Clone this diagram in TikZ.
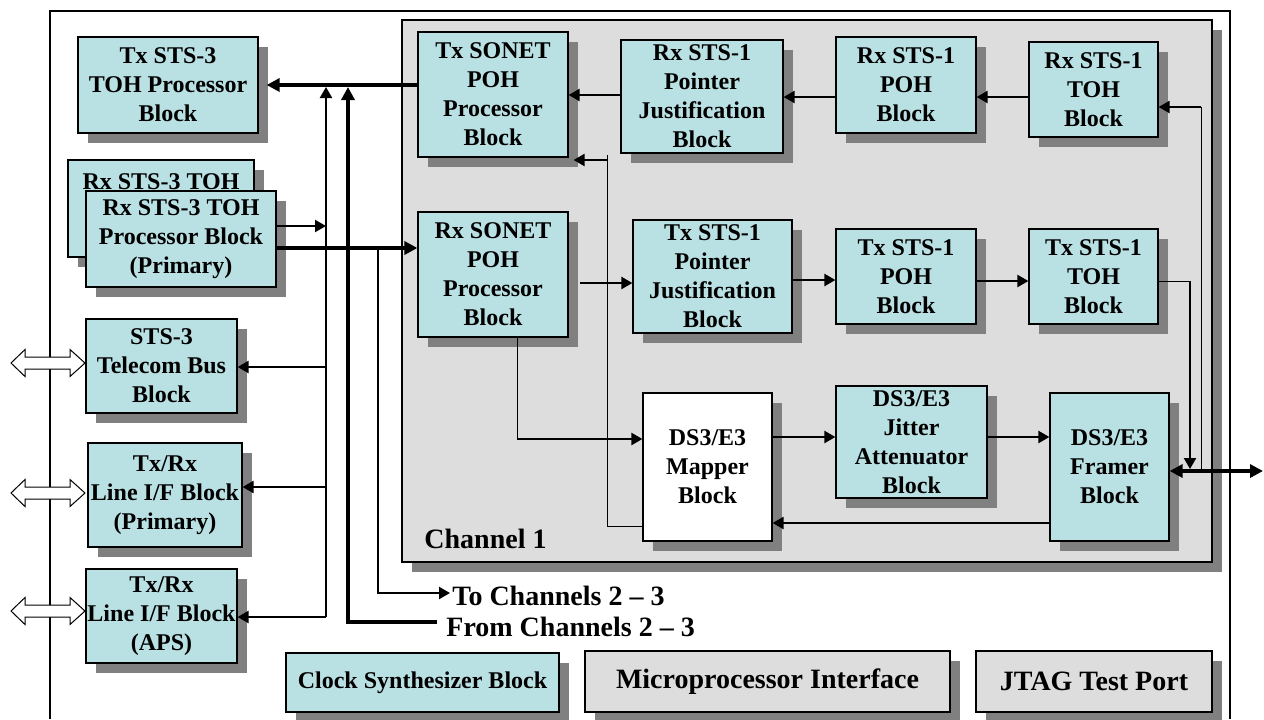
\documentclass[tikz,border=0pt]{standalone}
\usepackage{fontspec}
\setmainfont{Liberation Serif}
\usetikzlibrary{arrows.meta,shadows,calc}
\definecolor{boxblue}{RGB}{185,224,227}
\definecolor{shadowgray}{RGB}{128,128,128}
\definecolor{chgray}{RGB}{221,221,221}
\tikzset{
  blk/.style={draw=black, line width=0.6pt, fill=boxblue,
    drop shadow={shadow xshift=5pt, shadow yshift=-5pt, fill=shadowgray, opacity=1},
    align=center, inner sep=0pt, font=\bfseries\fontsize{12}{14.5}\selectfont},
  grayblk/.style={blk, fill=chgray, font=\bfseries\fontsize{14}{17}\selectfont},
  whiteblk/.style={blk, fill=white},
  lbl/.style={inner sep=0pt, font=\bfseries\fontsize{14}{17}\selectfont},
  thinl/.style={line width=0.5pt},
  medl/.style={line width=1.1pt},
  thickl/.style={line width=2pt},
  medtip/.style={-{Triangle[length=5.5pt,width=6pt]}},
  thicktip/.style={-{Triangle[length=6.5pt,width=6.5pt]}},
  thickboth/.style={{Triangle[length=6.5pt,width=6.5pt]}-{Triangle[length=6.5pt,width=6.5pt]}},
  dblarrow/.pic={\draw[fill=white,line width=0.5pt] (-37,0) -- (-23,-13.5) -- (-23,-6) -- (22,-6) -- (22,-13.5) -- (37,0) -- (22,13.5) -- (22,6) -- (-23,6) -- (-23,13.5) -- cycle;}
}
\newcommand\mkbox[7]{\node[#1,minimum width={(#5-#3)*0.5pt},minimum height={(#6-#4)*0.5pt}] (#2) at ({(#3+#5)/2},{(#4+#6)/2}) {#7};}
\begin{document}
\begin{tikzpicture}[x=0.5pt,y=-0.5pt]
\useasboundingbox (0,0) rectangle (1264,719);
% outer frame
\coordinate (frBL) at (50,719);
\coordinate (frTL) at (50,11);
\coordinate (frTR) at (1230,11);
\coordinate (frBR) at (1230,719);
\draw[line width=0.6pt] (frBL) -- (frTL) -- (frTR) -- (frBR);
% hollow double arrows
\pic (dbl1) at (48,363) {dblarrow};
\pic (dbl2) at (48,493) {dblarrow};
\pic (dbl3) at (48,611) {dblarrow};
% channel box
\mkbox{blk,fill=chgray}{chan}{402}{20}{1212}{562}{}
% left blocks
\mkbox{blk}{txsts3}{78}{37}{258}{133}{Tx STS-3\\TOH Processor\\Block}
\mkbox{blk}{rxback}{68}{160}{254}{257}{}
\node[inner sep=0pt,font=\bfseries\fontsize{12}{14.5}\selectfont,anchor=base] (rxbacktxt) at (161,189) {Rx STS-3 TOH};
\mkbox{blk}{rxprim}{86}{191}{276}{287}{Rx STS-3 TOH\\Processor Block\\(Primary)}
\mkbox{blk}{telecom}{86}{319}{237}{413}{STS-3\\Telecom Bus\\Block}
\mkbox{blk}{lineprim}{88}{443}{242}{547}{Tx/Rx\\Line I/F Block\\(Primary)}
\mkbox{blk}{lineaps}{86}{569}{237}{663}{Tx/Rx\\Line I/F Block\\(APS)}
% bottom blocks
\mkbox{blk}{clock}{286}{653}{559}{712}{Clock Synthesizer Block}
\mkbox{grayblk}{micro}{585}{651}{950}{712}{Microprocessor Interface}
\mkbox{grayblk}{jtag}{976}{651}{1212}{712}{JTAG Test Port}
% channel blocks
\mkbox{blk}{txsonet}{418}{32}{568}{157}{Tx SONET\\POH\\Processor\\Block}
\mkbox{blk}{rxptr}{621}{40}{783}{153}{Rx STS-1\\Pointer\\Justification\\Block}
\mkbox{blk}{rxpoh}{836}{37}{976}{133}{Rx STS-1\\POH\\Block}
\mkbox{blk}{rxtoh}{1029}{42}{1158}{137}{Rx STS-1\\TOH\\Block}
\mkbox{blk}{rxsonet}{418}{212}{568}{337}{Rx SONET\\POH\\Processor\\Block}
\mkbox{blk}{txptr}{633}{220}{792}{333}{Tx STS-1\\Pointer\\Justification\\Block}
\mkbox{blk}{txpoh}{836}{229}{976}{324}{Tx STS-1\\POH\\Block}
\mkbox{blk}{txtoh}{1029}{229}{1158}{324}{Tx STS-1\\TOH\\Block}
\mkbox{whiteblk}{mapper}{643}{393}{772}{541}{DS3/E3\\Mapper\\Block}
\mkbox{blk}{jitter}{836}{386}{987}{498}{DS3/E3\\Jitter\\Attenuator\\Block}
\mkbox{blk}{framer}{1050}{393}{1169}{541}{DS3/E3\\Framer\\Block}
% labels
\node[lbl,anchor=base west] (ch1) at (424,548) {Channel 1};
\node[lbl,anchor=base west] (tochan) at (452,605) {To Channels 2 – 3};
\node[lbl,anchor=base west] (fromchan) at (446,636) {From Channels 2 – 3};
% bus A
\coordinate (busAtop) at (326,87);
\coordinate (busAbot) at (326,617);
\draw[medl,medtip] (busAbot) -- (busAtop);
\draw[medl,medtip] (rxprim.east |- 0,226) -- (busAtop |- 0,226);
\draw[medl,medtip] (busAtop |- 0,367) -- (telecom.east |- 0,367);
\draw[medl,medtip] (busAtop |- 0,487) -- (lineprim.east |- 0,487);
\draw[medl,medtip] (busAbot) -- (lineaps.east |- busAbot);
% thick to Tx STS-3 TOH
\draw[thickl,thicktip] (txsonet.west |- txsts3.east) -- ([xshift=4pt]txsts3.east);
% bus B (from channels)
\coordinate (busBtop) at (348,87);
\coordinate (fromend) at (437,622);
\draw[thickl,thicktip] (fromend) -| (busBtop);
% thick to Rx SONET
\draw[thickl,thicktip] (rxprim.east |- 0,248) -- (rxsonet.west |- 0,248);
% bus C (to channels)
\coordinate (busCtop) at (378,248);
\coordinate (toend) at (450,593);
\draw[medl,medtip] (busCtop) |- (toend);
% channel connectors, top row
\draw[medl,medtip] (rxptr.west |- 0,95) -- (txsonet.east |- 0,95);
\draw[medl,medtip] (rxpoh.west |- 0,97) -- (rxptr.east |- 0,97);
\draw[medl,medtip] (rxtoh.west |- 0,97) -- (rxpoh.east |- 0,97);
\coordinate (rxtohin) at (1201,107);
\coordinate (bidirA) at (1201,471);
\draw[thinl] (bidirA) -- (rxtohin);
\draw[medl,medtip] (rxtohin) -- (rxtoh.east |- rxtohin);
% middle row
\draw[medl,medtip] ($(rxsonet.east |- 0,283)+(11,0)$) -- (txptr.west |- 0,283);
\draw[medl,medtip] (txptr.east |- 0,280) -- (txpoh.west |- 0,280);
\draw[medl,medtip] (txpoh.east |- 0,281) -- (txtoh.west |- 0,281);
\coordinate (txtohout) at (1190,281);
\coordinate (txtohdown) at (1190,469);
\draw[thinl] (txtoh.east |- txtohout) -- (txtohout);
\draw[medl,medtip] (txtohout) -- (txtohdown);
% bottom row
\coordinate (lineout) at (1263,471);
\draw[thickl,thickboth] (framer.east |- lineout) -- (lineout);
\draw[medl,medtip] (mapper.east |- 0,437) -- (jitter.west |- 0,437);
\draw[medl,medtip] (jitter.east |- 0,437) -- (framer.west |- 0,437);
\draw[medl,medtip] (framer.west |- 0,523) -- (mapper.east |- 0,523);
\coordinate (rxsdown) at (517,439);
\draw[thinl] (rxsonet.south -| rxsdown) -- (rxsdown);
\draw[medl,medtip] (rxsdown) -- (mapper.west |- rxsdown);
\coordinate (mapbackA) at (607,526);
\coordinate (mapbackB) at (607,155);
\coordinate (mapbackC) at (607,160);
\draw[thinl] (mapper.west |- mapbackA) -- (mapbackA) -- (mapbackB);
\draw[medl,medtip] (mapbackC) -- ($(txsonet.east |- mapbackC)+(5,0)$);
\end{tikzpicture}
\end{document}
